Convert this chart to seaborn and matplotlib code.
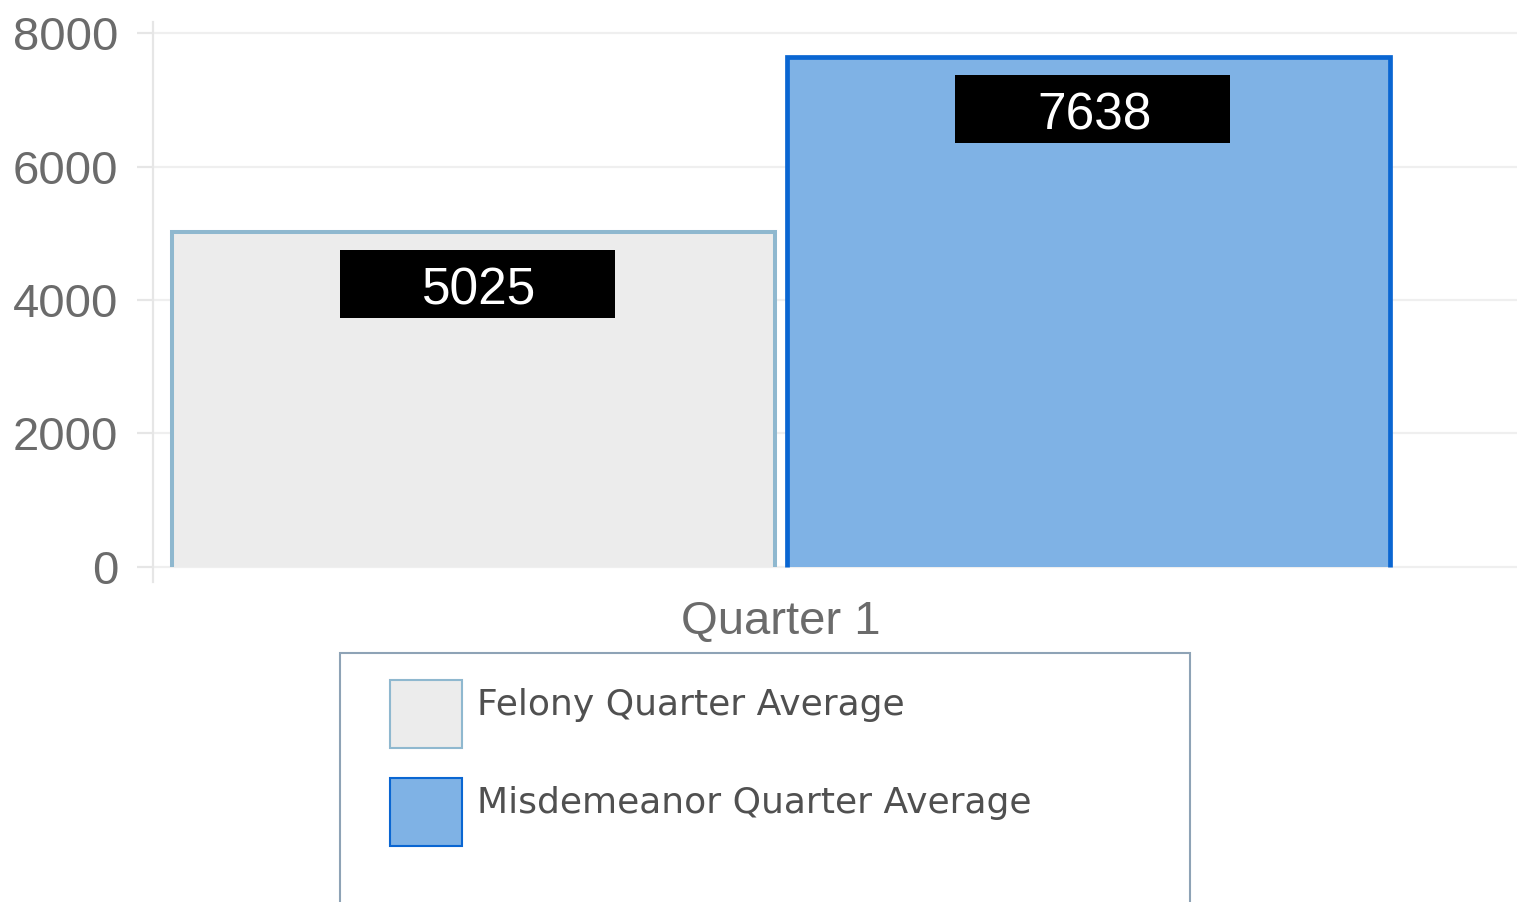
import matplotlib
matplotlib.use("Agg")
import matplotlib.pyplot as plt
import matplotlib.transforms as mtransforms
from matplotlib.patches import Patch, Rectangle
import pandas as pd
import seaborn as sns

# Chart data
quarters = ["Quarter 1", "Quarter 1"]
series = ["Felony Quarter Average", "Misdemeanor Quarter Average"]
values = [5025, 7638]
y_ticks = [0, 2000, 4000, 6000, 8000]

# Styling
fills = ["#ececec", "#7fb2e5"]
edges = ["#8fb8cf", "#0a66d2"]
edge_widths = [2.9, 3.4]

sns.set_theme(style="white")
plt.rcParams["font.family"] = ["Liberation Sans", "DejaVu Sans"]

W, H, DPI = 1517, 902, 100
fig = plt.figure(figsize=(W / DPI, H / DPI), dpi=DPI)
fig.patch.set_facecolor("white")
ax = fig.add_axes([153 / W, 1 - 582 / H, 1 - 153 / W, (582 - 22) / H])
ax.set_facecolor("white")

df = pd.DataFrame({"quarter": quarters, "series": series, "value": values})
sns.barplot(data=df, x="quarter", y="value", hue="series", hue_order=series,
            palette=fills, saturation=1, width=0.98, gap=0.02,
            legend=False, ax=ax, zorder=2, linewidth=0)

ax.set_ylim(-225, 8165)
ax.set_xlim(-0.5, 0.586)
ax.set_yticks(y_ticks)
ax.set_xlabel("")
ax.set_ylabel("")

# grid, spines and ticks
ax.set_axisbelow(True)
ax.yaxis.grid(True, color="#efefef", linewidth=1.6)
ax.xaxis.grid(False)
for side in ["top", "right", "bottom"]:
    ax.spines[side].set_visible(False)
ax.spines["left"].set_color("#e6e6e6")
ax.spines["left"].set_linewidth(1.6)
ax.tick_params(axis="y", left=True, length=11.5, width=1.6, color="#e6e6e6",
               labelsize=34, labelcolor="#6b6b6b", pad=13.5)
ax.tick_params(axis="x", bottom=False, length=0, labelsize=34,
               labelcolor="#6b6b6b", pad=13)

# open-bottom bar outlines and value boxes (sizes in pixels)
box_w, box_h, box_gap, text_drop = 275, 68, 18, 7
px = mtransforms.IdentityTransform()
for i, cont in enumerate(ax.containers):
    for bar in cont:
        x0 = bar.get_x()
        x1 = x0 + bar.get_width()
        top = bar.get_height()
        ax.plot([x0, x0, x1, x1], [0, top, top, 0], color=edges[i],
                linewidth=edge_widths[i], solid_joinstyle="miter",
                solid_capstyle="butt", zorder=3)
        cx = (x0 + x1) / 2
        anchor = mtransforms.ScaledTranslation(cx, top, ax.transData)
        rect = Rectangle((-box_w / 2 + 4, -box_gap - box_h), box_w, box_h,
                         facecolor="black", edgecolor="none",
                         transform=px + anchor, zorder=4)
        ax.add_artist(rect)
        txt_tr = mtransforms.offset_copy(ax.transData, fig=fig, x=6,
                                         y=-box_gap - box_h / 2 - text_drop,
                                         units="dots")
        ax.text(cx, top, f"{int(round(top))}", transform=txt_tr,
                ha="center", va="center", color="white", fontsize=37,
                zorder=5)

# legend
handles = [Patch(facecolor=fills[i], edgecolor=edges[i], linewidth=1.5)
           for i in range(len(series))]
leg = fig.legend(handles, series, loc="upper left",
                 bbox_to_anchor=(390 / W, 1 - 680 / H), frameon=False,
                 borderpad=0, borderaxespad=0,
                 handlelength=2.0, handleheight=2.52, handletextpad=0.42,
                 labelspacing=0.83, prop={"family": "DejaVu Sans", "size": 26})
for t in leg.get_texts():
    t.set_color("#505050")
    t.set_transform(t.get_transform() + mtransforms.Affine2D().translate(0, 10))

frame = Rectangle((340 / W, -0.05), (1190 - 340) / W, (902 - 653) / H + 0.05,
                  transform=fig.transFigure, fill=False, edgecolor="#8ea3b6",
                  linewidth=1.5)
fig.add_artist(frame)

fig.savefig("out.png", dpi=DPI, facecolor="white")
